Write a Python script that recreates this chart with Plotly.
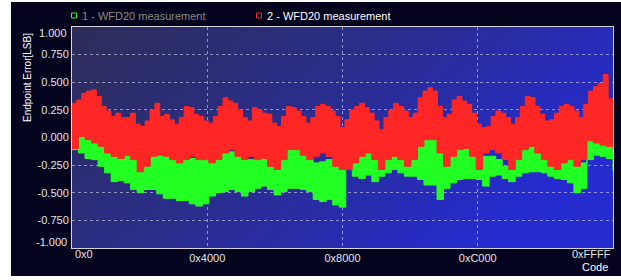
import base64
import numpy as np
import plotly.graph_objects as go

# ---------------- data ----------------
series_names = ["1 - WFD20 measurement", "2 - WFD20 measurement"]
series_colors = ["#22ff22", "#ff2626"]

x_tick_codes = [0x0, 0x4000, 0x8000, 0xC000, 0xFFFF]
x_tick_labels = ["0x0", "0x4000", "0x8000", "0xC000", "0xFFFF"]
y_tick_vals = [-1.0, -0.75, -0.5, -0.25, 0.0, 0.25, 0.5, 0.75, 1.0]
y_tick_labels = ["-1.000", "-0.750", "-0.500", "-0.250", "0.000", "0.250", "0.500", "0.750", "1.000"]

# series 2 (red) envelope
red_upper = [0.31, 0.34, 0.40, 0.42, 0.43, 0.37, 0.28, 0.24, 0.19, 0.22, 0.18, 0.18, 0.22, 0.12,
             0.10, 0.15, 0.25, 0.31, 0.19, 0.21, 0.16, 0.12, 0.18, 0.28, 0.27, 0.21, 0.19, 0.15,
             0.13, 0.19, 0.28, 0.36, 0.33, 0.31, 0.25, 0.18, 0.15, 0.27, 0.25, 0.22, 0.21, 0.13,
             0.10, 0.19, 0.28, 0.27, 0.24, 0.19, 0.13, 0.18, 0.28, 0.30, 0.28, 0.24, 0.19, 0.09,
             0.16, 0.25, 0.28, 0.31, 0.27, 0.22, 0.15, 0.07, 0.18, 0.25, 0.31, 0.28, 0.24, 0.18,
             0.22, 0.36, 0.42, 0.45, 0.42, 0.28, 0.18, 0.21, 0.34, 0.37, 0.33, 0.30, 0.22, 0.12,
             0.09, 0.10, 0.19, 0.24, 0.22, 0.18, 0.12, 0.18, 0.28, 0.37, 0.36, 0.28, 0.21, 0.15,
             0.16, 0.22, 0.28, 0.30, 0.28, 0.24, 0.18, 0.30, 0.42, 0.46, 0.49, 0.57, 0.35, 0.18]
red_lower = [-0.10, 0.01, -0.02, -0.05, -0.08, -0.14, -0.17, -0.19, -0.16, -0.20, -0.31,
             -0.26, -0.17, -0.16, -0.17, -0.20, -0.23, -0.20, -0.17, -0.20, -0.20,
             -0.23, -0.20, -0.14, -0.11, -0.17, -0.20, -0.17, -0.20, -0.19, -0.26, -0.29,
             -0.20, -0.11, -0.11, -0.16, -0.20, -0.17, -0.14, -0.17, -0.26, -0.29,
             -0.29, -0.23, -0.17, -0.14, -0.20, -0.29, -0.20, -0.17, -0.20, -0.26, -0.20,
             -0.08, -0.02, -0.02, -0.14, -0.26, -0.17, -0.11, -0.10, -0.17, -0.29,
             -0.14, -0.11, -0.14, -0.20, -0.29, -0.20, -0.11, -0.08, -0.14, -0.20, -0.26,
             -0.29, -0.23, -0.20, -0.26, -0.20, -0.03, -0.05, -0.07, -0.08, -0.12]

# series 1 (green) envelope
green_upper = [-0.07, 0.05, 0.05, 0.02, -0.05, -0.11, -0.14, -0.11, -0.14, -0.17, -0.26,
               -0.20, -0.11, -0.14, -0.17, -0.20, -0.20, -0.17, -0.19, -0.20, -0.20,
               -0.20, -0.17, -0.11, -0.13, -0.16, -0.20, -0.20, -0.16, -0.17, -0.23, -0.26,
               -0.20, -0.11, -0.08, -0.14, -0.20, -0.23, -0.22, -0.20, -0.26, -0.29,
               -0.26, -0.11, -0.08, -0.11, -0.20, -0.26, -0.17, -0.08, -0.11, -0.17, -0.14,
               -0.02, 0.01, -0.02, -0.11, -0.23, -0.08, -0.05, -0.05, -0.08, -0.20,
               -0.17, -0.17, -0.20, -0.26, -0.26, -0.17, -0.05, -0.02, -0.08, -0.17, -0.20,
               -0.14, -0.08, -0.14, -0.26, -0.23, 0.04, 0.05, 0.01, 0.02, -0.08]
green_lower = [-0.11, -0.14, -0.19, -0.20, -0.26, -0.32, -0.40, -0.39, -0.41, -0.47, -0.50,
               -0.47, -0.47, -0.51, -0.55, -0.55, -0.57, -0.57, -0.60, -0.62, -0.60,
               -0.53, -0.50, -0.49, -0.47, -0.49, -0.53, -0.49, -0.46, -0.44, -0.47, -0.52,
               -0.49, -0.46, -0.46, -0.47, -0.49, -0.56, -0.58, -0.56, -0.61, -0.63,
               -0.29, -0.35, -0.37, -0.34, -0.40, -0.35, -0.32, -0.29, -0.32, -0.35, -0.35,
               -0.38, -0.43, -0.43, -0.56, -0.46, -0.41, -0.38, -0.37, -0.37, -0.38,
               -0.44, -0.35, -0.34, -0.37, -0.40, -0.35, -0.32, -0.31, -0.31, -0.32, -0.35,
               -0.37, -0.38, -0.41, -0.50, -0.46, -0.20, -0.16, -0.17, -0.19, -0.30]

code_max = 0xFFFF

# ---------------- layout geometry helpers ----------------
W, H = 621, 280
L, R, T, B = 72, 8, 27, 32
PW, PH = W - L - R, H - T - B


def px(x):
    return (x - L) / PW


def py(y):
    return (H - B - y) / PH


def codes(n):
    return np.linspace(0, code_max, n)


fig = go.Figure()

envelopes = [(green_lower, green_upper), (red_lower, red_upper)]
for i, (lo, hi) in enumerate(envelopes):
    c = series_colors[i]
    fig.add_trace(go.Scatter(x=codes(len(lo)), y=lo, mode="lines", line=dict(color=c, width=1, shape="hv"),
                             showlegend=False, hoverinfo="skip"))
    fig.add_trace(go.Scatter(x=codes(len(hi)), y=hi, mode="lines", line=dict(color=c, width=1, shape="hv"),
                             fill="tonexty", fillcolor=c, showlegend=False, name=series_names[i]))

# gradient plot background as an inline SVG image
svg = ('<svg xmlns="http://www.w3.org/2000/svg" width="541" height="221" preserveAspectRatio="none">'
       '<defs><linearGradient id="g" x1="0" y1="0" x2="1" y2="0.45">'
       '<stop offset="0" stop-color="#2d2d58"/><stop offset="0.5" stop-color="#2a2d8c"/>'
       '<stop offset="1" stop-color="#252bcf"/></linearGradient></defs>'
       '<rect width="541" height="221" fill="url(#g)"/></svg>')
src = "data:image/svg+xml;base64," + base64.b64encode(svg.encode()).decode()

grid = dict(showgrid=True, gridcolor="rgba(215,215,240,0.6)", griddash="dot", gridwidth=1,
            zeroline=False, showline=True, mirror=True, linecolor="#d4d4dc", linewidth=1,
            ticks="", tickfont=dict(family="Liberation Sans, Arial", size=11, color="#e4e4e4"))

fig.update_layout(
    width=W, height=H,
    margin=dict(l=L, r=R, t=T, b=B),
    paper_bgcolor="#03031d",
    plot_bgcolor="#2a2d80",
    showlegend=False,
    xaxis=dict(range=[0, code_max], tickvals=x_tick_codes[1:-1], ticktext=x_tick_labels[1:-1], **grid),
    yaxis=dict(range=[-1, 1], tickvals=y_tick_vals,
               ticktext=[""] + y_tick_labels[1:-1] + [""], **grid),
    images=[dict(source=src, xref="paper", yref="paper", x=0, y=1, sizex=1, sizey=1,
                 xanchor="left", yanchor="top", sizing="stretch", layer="below")],
)

font = dict(family="Liberation Sans, Arial", size=11, color="#e4e4e4")
ann = []
# end tick labels, pulled inside like the original
ann.append(dict(x=px(73), y=py(254), text=x_tick_labels[0], xanchor="left", yanchor="middle"))
ann.append(dict(x=px(613), y=py(254), text=x_tick_labels[-1], xanchor="right", yanchor="middle"))
ann.append(dict(x=px(69), y=py(33), text=y_tick_labels[-1], xanchor="right", yanchor="middle"))
ann.append(dict(x=px(69), y=py(242), text=y_tick_labels[0], xanchor="right", yanchor="middle"))
# axis titles
ann.append(dict(x=px(610), y=py(267), text="Code", xanchor="right", yanchor="middle",
                font=dict(family="Liberation Sans, Arial", size=11, color="#ffffff")))
ann.append(dict(x=px(27), y=py(78), text="Endpoint Error[LSB]", textangle=-90, xanchor="center",
                yanchor="middle", font=dict(family="Liberation Sans, Arial", size=10, color="#ffffff")))
# legend
legend_text_colors = ["#8a8a8a", "#ffffff"]
legend_sym_x = [74, 259]
for i, name in enumerate(series_names):
    ann.append(dict(x=px(legend_sym_x[i] + 6), y=py(16), text=name, xanchor="left", yanchor="middle",
                    font=dict(family="Liberation Sans, Arial", size=11, color=legend_text_colors[i])))
for a in ann:
    a.setdefault("font", font)
    a.update(xref="paper", yref="paper", showarrow=False)
fig.update_layout(annotations=ann)

shapes = []
for i in range(2):
    cx = legend_sym_x[i]
    shapes.append(dict(type="rect", xref="paper", yref="paper", x0=px(cx - 2.5), x1=px(cx + 2.5),
                       y0=py(18), y1=py(13), line=dict(color=series_colors[i], width=1)))
# white page margins around the dark panel
for (x0, x1, y0, y1) in [(0, 11, 0, 280), (0, 621, 0, 2), (0, 621, 276, 280)]:
    shapes.append(dict(type="rect", xref="paper", yref="paper", x0=px(x0), x1=px(x1), y0=py(y1), y1=py(y0),
                       fillcolor="#ffffff", line=dict(width=0), layer="below"))
fig.update_layout(shapes=shapes)

fig.write_html("out.html", config={"displayModeBar": False},
               post_script="document.body.style.margin='0';document.body.style.overflow='hidden';")
